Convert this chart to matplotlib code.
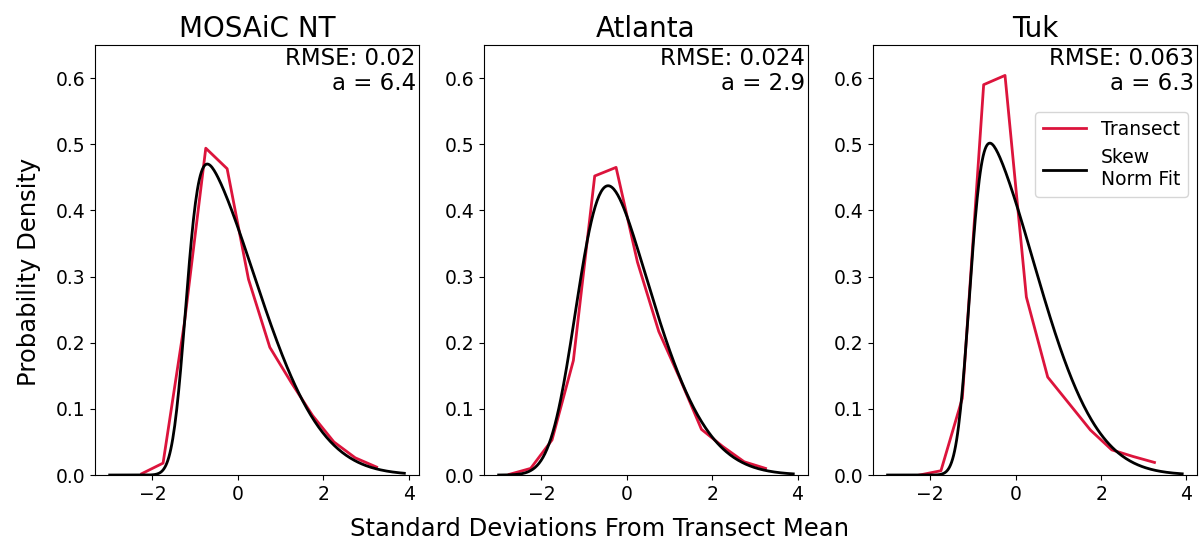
import math
import numpy as np
import matplotlib
matplotlib.use("Agg")
import matplotlib.pyplot as plt

# binned transect PDFs (bin centres, density)
sites = ["MOSAiC NT", "Atlanta", "Tuk"]

mosaic_x = [-2.25, -1.75, -1.25, -0.75, -0.25, 0.25, 0.75, 1.25, 1.75, 2.25, 2.75, 3.25]
mosaic_y = [0.002, 0.018, 0.23, 0.494, 0.463, 0.296, 0.193, 0.140, 0.090, 0.050, 0.026, 0.012]

atlanta_x = [-2.75, -2.25, -1.75, -1.25, -0.75, -0.25, 0.25, 0.75, 1.25, 1.75, 2.25, 2.75, 3.25]
atlanta_y = [0.001, 0.010, 0.053, 0.173, 0.452, 0.465, 0.322, 0.217, 0.145, 0.069, 0.043, 0.020, 0.010]

tuk_x = [-2.25, -1.75, -1.25, -0.75, -0.25, 0.25, 0.75, 1.25, 1.75, 2.25, 2.75, 3.25]
tuk_y = [0.0, 0.0065, 0.116, 0.590, 0.604, 0.269, 0.148, 0.108, 0.068, 0.038, 0.028, 0.019]

# skew normal fit parameters (shape a, loc, scale) and fit error
skew_a = [6.4, 2.9, 6.3]
skew_loc = [-1.221, -1.152, -1.083]
skew_scale = [1.58, 1.493, 1.478]
rmse = ["0.02", "0.024", "0.063"]

transect_x = [mosaic_x, atlanta_x, tuk_x]
transect_y = [mosaic_y, atlanta_y, tuk_y]

xs = np.linspace(-3, 3.9, 300)

_erf = np.vectorize(math.erf)


def skewnorm_pdf(x, a, loc, scale):
    z = (x - loc) / scale
    phi = np.exp(-0.5 * z ** 2) / np.sqrt(2 * np.pi)
    Phi = 0.5 * (1 + _erf(a * z / np.sqrt(2)))
    return 2 / scale * phi * Phi


fig, axes = plt.subplots(1, 3, figsize=(11.99, 5.44), dpi=100)
fig.subplots_adjust(left=0.0792, right=0.9983, bottom=0.1268, top=0.9173, wspace=0.2)

for i, ax in enumerate(axes):
    ax.plot(transect_x[i], transect_y[i], color="crimson", lw=2, label="Transect")
    ax.plot(xs, skewnorm_pdf(xs, skew_a[i], skew_loc[i], skew_scale[i]),
            color="black", lw=2, label="Skew\nNorm Fit")
    ax.set_ylim(0, 0.65)
    ax.set_xticks([-2, 0, 2, 4])
    ax.set_yticks([0.0, 0.1, 0.2, 0.3, 0.4, 0.5, 0.6])
    ax.tick_params(labelsize=13.5)
    ax.set_title(sites[i], fontsize=20)
    ax.text(0.99, 0.995, "RMSE: %s\na = %s" % (rmse[i], skew_a[i]),
            transform=ax.transAxes, ha="right", va="top", fontsize=16.5,
            linespacing=1.1)

axes[2].legend(loc="upper right", bbox_to_anchor=(1.0, 0.865), fontsize=13.5,
               handlelength=2.3)

fig.supxlabel("Standard Deviations From Transect Mean", fontsize=17.5, y=0.005)
fig.supylabel("Probability Density", fontsize=17.5, x=0.014)

fig.savefig("out.png", dpi=100)
